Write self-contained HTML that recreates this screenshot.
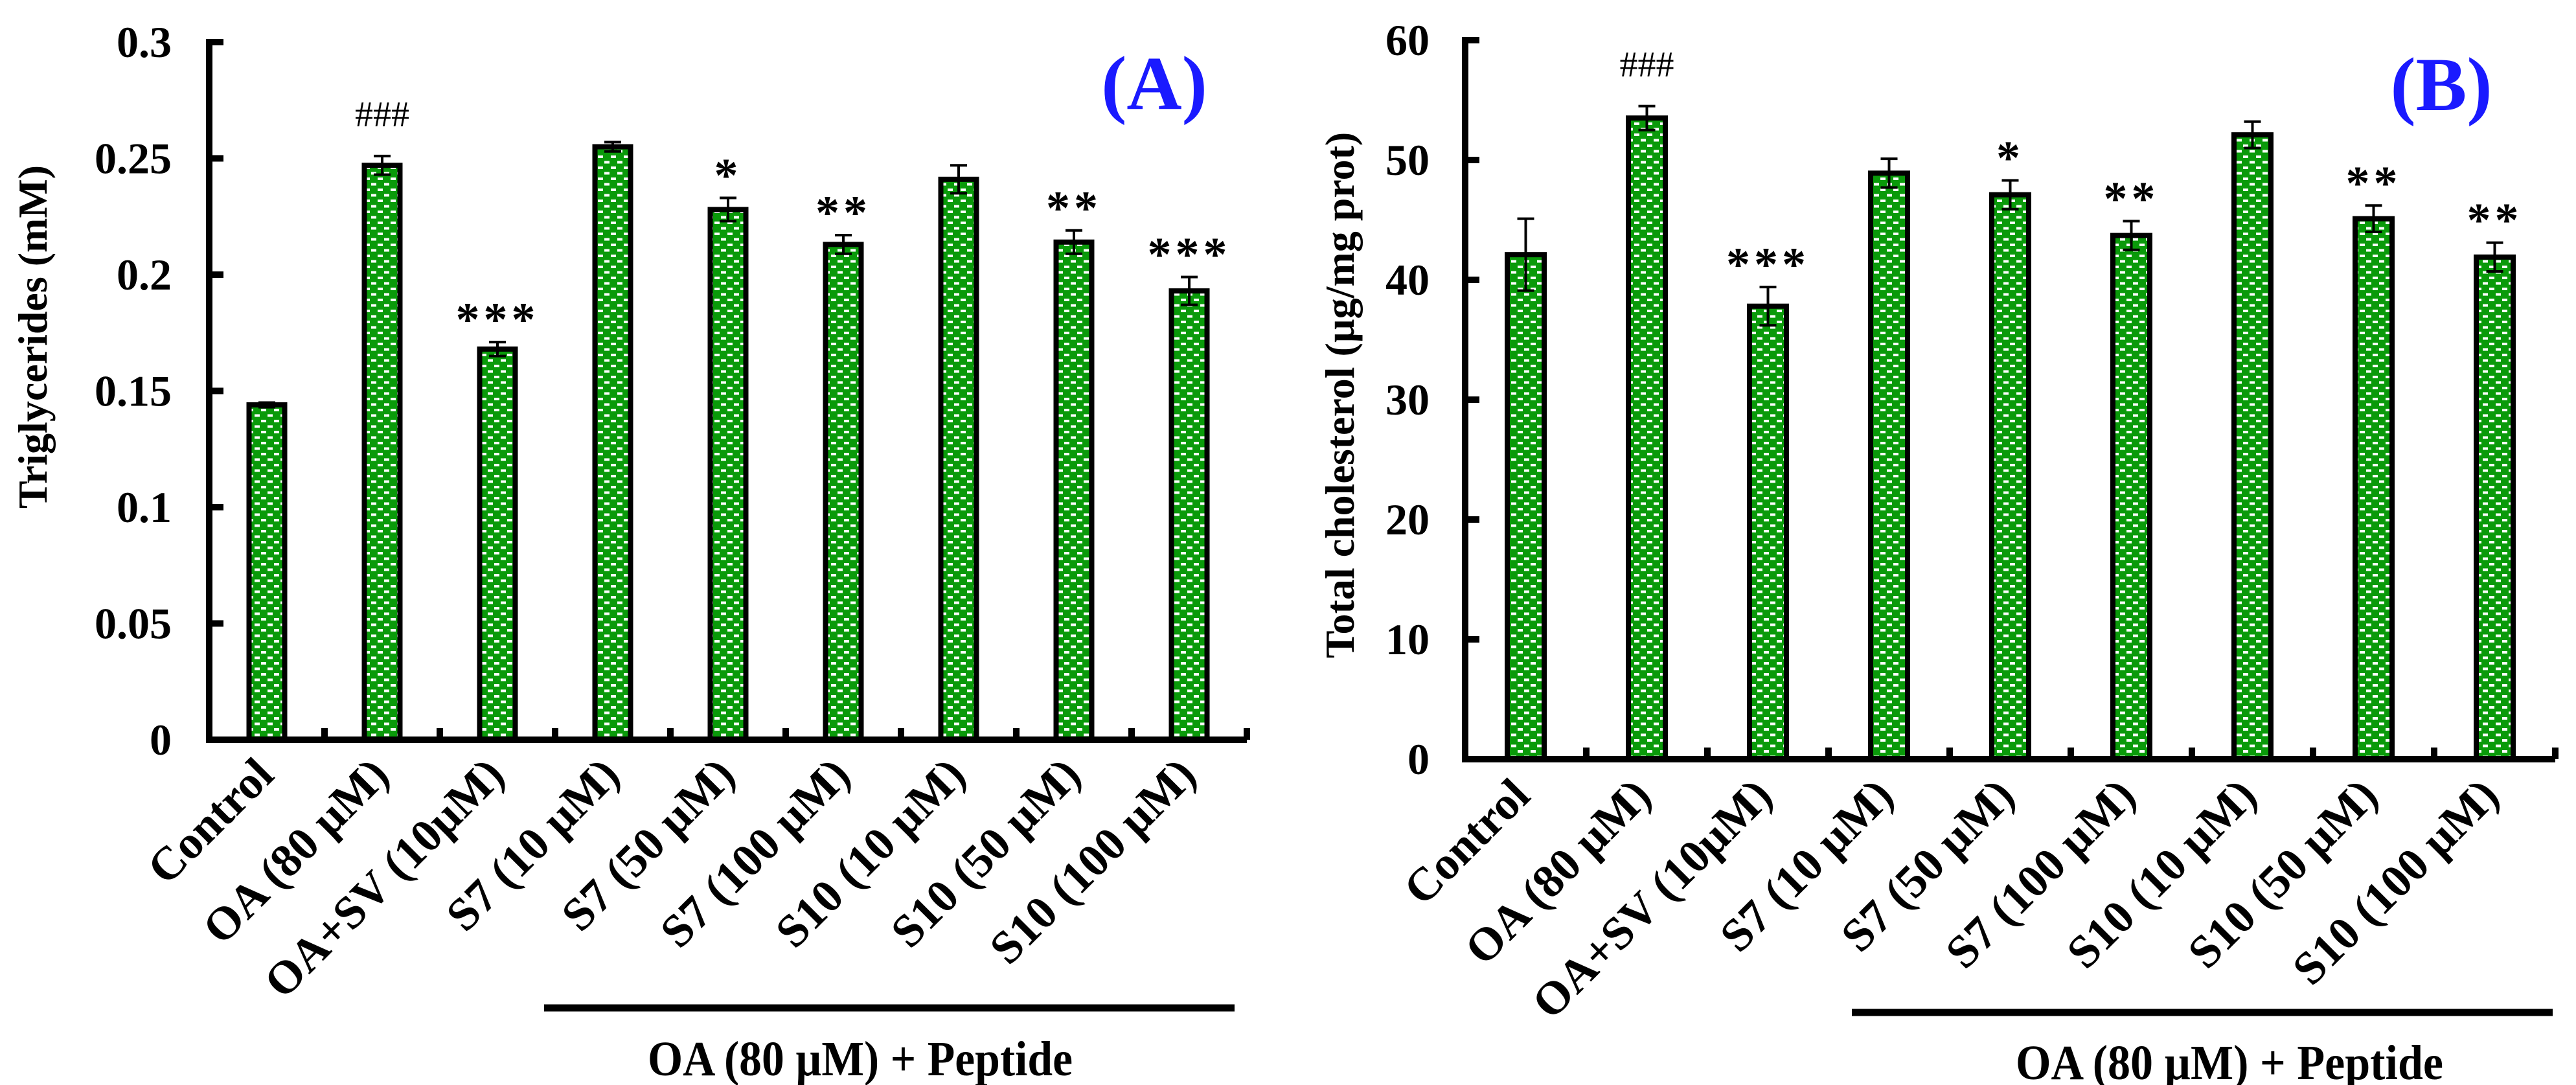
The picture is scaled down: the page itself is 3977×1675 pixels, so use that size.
<!DOCTYPE html>
<html><head><meta charset="utf-8">
<style>
html,body{margin:0;padding:0;background:#fff;}
svg{display:block;font-family:"Liberation Serif","Times New Roman",serif;}
</style></head>
<body>
<svg id="fig" width="3977" height="1675" viewBox="0 0 3977 1675" xmlns="http://www.w3.org/2000/svg">
<defs>
<pattern id="dots" patternUnits="userSpaceOnUse" width="20" height="17">
<rect width="20" height="17" fill="#0a9a0a"/>
<rect x="3" y="2" width="8" height="4" fill="#fff"/>
<rect x="13" y="10.5" width="8" height="4" fill="#fff"/>
<rect x="-7" y="10.5" width="8" height="4" fill="#fff"/>
</pattern>
</defs>
<g id="panelA"></g>
<g id="panelB"></g>
</svg>
<script>
const categories = ["Control","OA (80 \u00b5M)","OA+SV (10\u00b5M)","S7 (10 \u00b5M)","S7 (50 \u00b5M)","S7 (100 \u00b5M)","S10 (10 \u00b5M)","S10 (50 \u00b5M)","S10 (100 \u00b5M)"];
const tgValues = [0.144,0.247,0.168,0.255,0.228,0.213,0.241,0.214,0.193];
const tgErrors = [0.001,0.004,0.003,0.002,0.005,0.004,0.006,0.005,0.006];
const tgMarks = ["","###","***","","*","**","","**","***"];
const tgTicks = [0,0.05,0.1,0.15,0.2,0.25,0.3];
const tgTickLabels = ["0","0.05","0.1","0.15","0.2","0.25","0.3"];
const tcValues = [42.1,53.5,37.8,48.9,47.1,43.7,52.1,45.1,41.9];
const tcErrors = [3.0,1.0,1.6,1.2,1.2,1.2,1.1,1.1,1.2];
const tcMarks = ["","###","***","","*","**","","**","**"];
const tcTicks = [0,10,20,30,40,50,60];
const tcTickLabels = ["0","10","20","30","40","50","60"];

const NS = "http://www.w3.org/2000/svg";
function mk(tag, attrs, parent, text){
  const e = document.createElementNS(NS, tag);
  for (const k in attrs) e.setAttribute(k, attrs[k]);
  if (text !== undefined) e.textContent = text;
  parent.appendChild(e);
  return e;
}

function drawPanel(g, cfg, values, errors, marks, ticks, tickLabels){
  const x0 = cfg.x0, x1 = cfg.x1, y0 = cfg.y0, yTop = cfg.yTop;
  const bw = (x1 - x0) / categories.length;
  const yScale = v => y0 - (v - ticks[0]) / (ticks[ticks.length-1] - ticks[0]) * (y0 - yTop);
  const xCenter = i => x0 + bw * (i + 0.5);

  values.forEach((v, i) => {
    const cx = xCenter(i), y = yScale(v);
    const r = mk('rect', {x: cx - cfg.barW/2, y: y, width: cfg.barW, height: y0 - y, fill: 'url(#dots)', stroke: '#000', 'stroke-width': 8}, g);
    
    
    const eTop = yScale(v + errors[i]), eBot = yScale(v - errors[i]);
    const eg = mk('g', {stroke: '#000', 'stroke-width': 4}, g);
    
    
    mk('line', {x1: cx, x2: cx, y1: eTop, y2: eBot}, eg);
    mk('line', {x1: cx - 13, x2: cx + 13, y1: eTop, y2: eTop}, eg);
    mk('line', {x1: cx - 13, x2: cx + 13, y1: eBot, y2: eBot}, eg);
    if (marks[i]) {
      const hash = marks[i][0] === '#';
      const t = mk('text', {x: cx, y: hash ? eTop - 46 : eTop - 10, 'text-anchor': 'middle',
        'font-size': hash ? 56 : 74, 'font-weight': hash ? 'normal' : 'bold', fill: '#000',
        'letter-spacing': hash ? 0 : 6}, g, marks[i]);
      
      
    }
    const lbl = mk('text', {x: 0, y: 0, 'text-anchor': 'end', 'font-size': 72, 'font-weight': 'bold',
      transform: 'translate(' + (cx + cfg.lblDx) + ',' + cfg.lblY + ') rotate(-45)'}, g, categories[i]);
    
    
  });

  const ax = mk('g', {stroke: '#000', 'stroke-width': 10, fill: 'none'}, g);
  
  
  mk('line', {x1: x0, x2: x0, y1: yTop - 5, y2: y0 + 5}, ax);
  mk('line', {x1: x0 - 5, x2: x1, y1: y0, y2: y0}, ax);
  ticks.forEach((t, i) => {
    const y = yScale(t);
    mk('line', {x1: x0, x2: x0 + 22, y1: y, y2: y}, ax);
    const tl = mk('text', {x: cfg.tickX, y: y + 23, 'text-anchor': 'end', 'font-size': 68, 'font-weight': 'bold'}, g, tickLabels[i]);
    
    
  });
  for (let i = 1; i <= categories.length; i++) {
    const x = x0 + bw * i;
    mk('line', {x1: x, x2: x, y1: y0, y2: y0 - 18}, ax);
  }

  const yt = mk('text', {x: 0, y: 0, 'text-anchor': 'middle', 'font-size': 64, 'font-weight': 'bold',
    transform: 'translate(' + cfg.titleX + ',' + cfg.titleY + ') rotate(-90)'}, g, cfg.title);
  
  

  const pl = mk('text', {x: cfg.panelX, y: cfg.panelY, 'text-anchor': 'middle', 'font-size': 118, 'font-weight': 'bold', fill: '#1a1aff'}, g, cfg.panel);
  
  

  const br = mk('line', {x1: cfg.brX1, x2: cfg.brX2, y1: cfg.brY, y2: cfg.brY, stroke: '#000', 'stroke-width': 11}, g);
  
  
  const bt = mk('text', {x: cfg.brTextX, y: cfg.brTextY, 'text-anchor': 'middle', 'font-size': 76, 'font-weight': 'bold', textLength: cfg.brTextW, lengthAdjust: 'spacingAndGlyphs'}, g, 'OA (80 \u00b5M) + Peptide');
  
  
}

drawPanel(document.getElementById('panelA'), {
  x0: 323, x1: 1925, y0: 1142, yTop: 65, barW: 55, tickX: 265,
  lblDx: 14, lblY: 1200, title: 'Triglycerides (mM)', titleX: 72, titleY: 520,
  panel: '(A)', panelX: 1782, panelY: 168,
  brX1: 840, brX2: 1906, brY: 1556, brTextX: 1328, brTextY: 1660, brTextW: 656
}, tgValues, tgErrors, tgMarks, tgTicks, tgTickLabels);

drawPanel(document.getElementById('panelB'), {
  x0: 2262, x1: 3945, y0: 1172, yTop: 62, barW: 57, tickX: 2207,
  lblDx: 10, lblY: 1232, title: 'Total cholesterol (\u00b5g/mg prot)', titleX: 2090, titleY: 610,
  panel: '(B)', panelX: 3769, panelY: 170,
  brX1: 2859, brX2: 3941, brY: 1563, brTextX: 3442, brTextY: 1666, brTextW: 660
}, tcValues, tcErrors, tcMarks, tcTicks, tcTickLabels);
</script>
</body></html>
